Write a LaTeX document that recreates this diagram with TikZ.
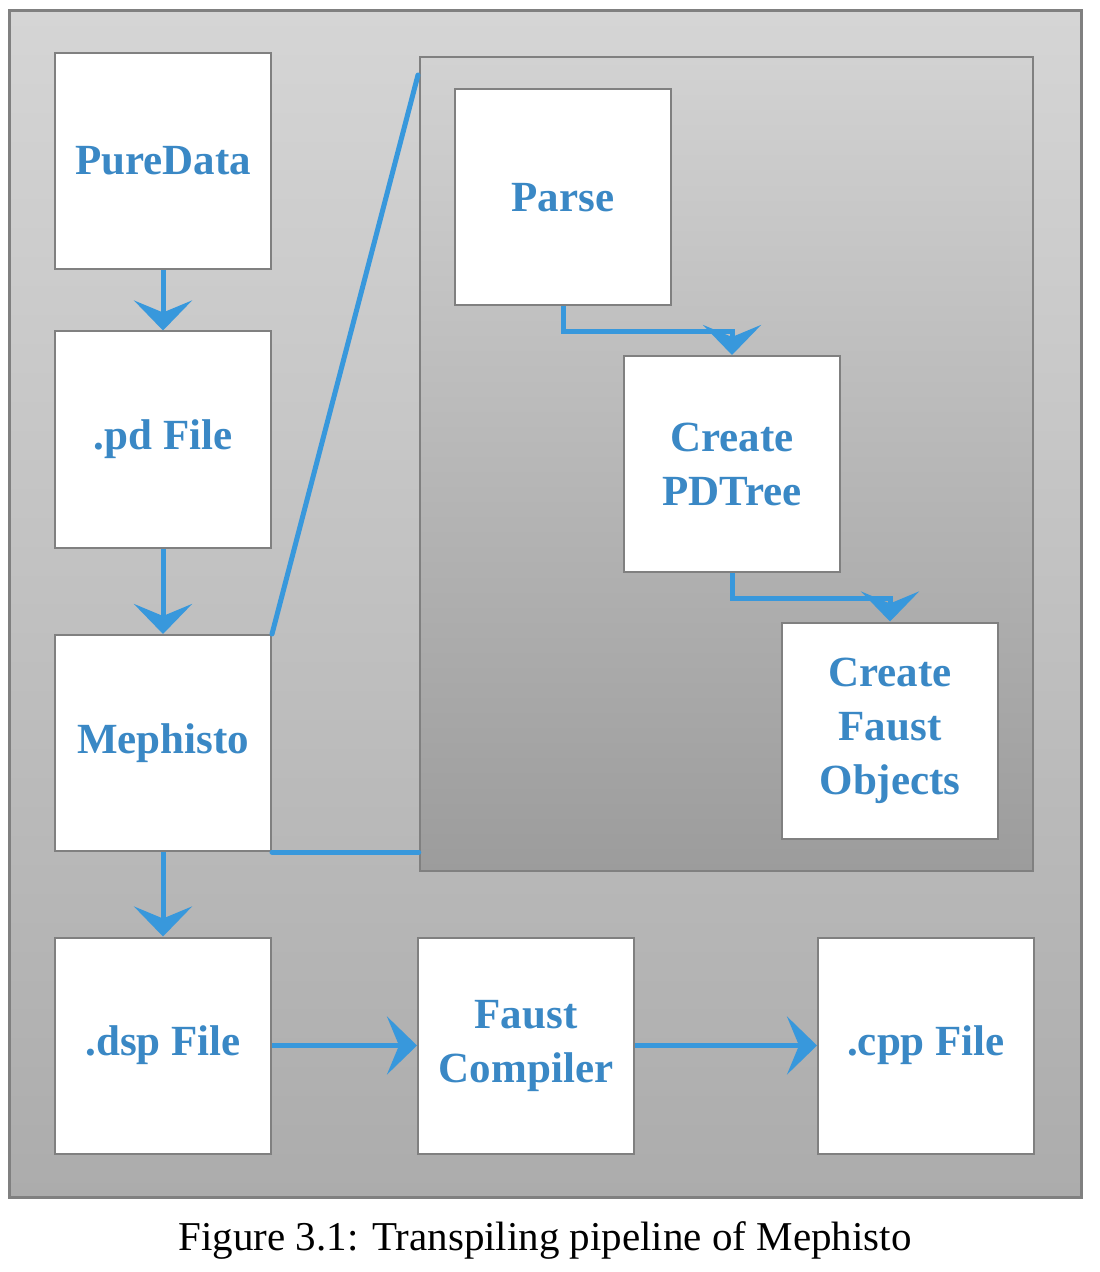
\documentclass[tikz,border=0pt]{standalone}
\usepackage{fontspec}
\setmainfont{Liberation Serif}
\usetikzlibrary{arrows.meta}
\definecolor{boxtext}{RGB}{58,136,197}
\definecolor{conncol}{RGB}{56,152,220}
\definecolor{edgecol}{RGB}{128,128,128}
\begin{document}
\begin{tikzpicture}[x=0.5pt,y=-0.5pt,
  stagebox/.style={draw=edgecol, line width=1pt, fill=white, minimum width=108pt, minimum height=108pt,
    inner sep=0pt, font=\fontsize{21.5}{27}\selectfont\bfseries, text=boxtext, align=center},
  flow/.style={draw=conncol, line width=2.5pt, -{Stealth[length=15pt,width=29pt,inset=6pt]}},
  zoomline/.style={draw=conncol, line width=2.5pt, line cap=round}]
\useasboundingbox (0,0) rectangle (1099,1272);
\fill[white] (0,0) rectangle (1099,1272);
% outer frame
\draw[draw=edgecol, line width=1.5pt, top color={rgb,255:red,213;green,213;blue,213}, bottom color={rgb,255:red,172;green,172;blue,172}] (9,11) rectangle (1081,1197);
% inner panel
\node[draw=edgecol, line width=1.2pt, top color={rgb,255:red,210;green,210;blue,210}, bottom color={rgb,255:red,156;green,156;blue,156},
  minimum width=306.5pt, minimum height=407pt, inner sep=0pt] (panel) at (726.5,464) {};
% boxes
\node[stagebox] (pure) at (163,161) {PureData};
\node[stagebox] (pd) at (163,439.5) {.pd File};
\node[stagebox] (meph) at (163,743) {Mephisto};
\node[stagebox] (dsp) at (163,1045.5) {.dsp File};
\node[stagebox] (faust) at (526,1045.5) {Faust\\Compiler};
\node[stagebox] (cpp) at (926,1045.5) {.cpp File};
\node[stagebox] (parse) at (563,197.5) {Parse};
\node[stagebox] (tree) at (732,464) {Create\\PDTree};
\node[stagebox] (objs) at (890,730.5) {Create\\Faust\\Objects};
% connectors
\draw[flow] (pure.south) -- (pd.north);
\draw[flow] (pd.south) -- (meph.north);
\draw[flow] (meph.south) -- (dsp.north);
\draw[flow] (dsp.east) -- (faust.west);
\draw[flow] (faust.east) -- (cpp.west);
\draw[flow] (parse.south) -- ++(0,25) -| (tree.north);
\draw[flow] (tree.south) -- ++(0,25) -| (objs.north);
% zoom lines
\coordinate (ztop) at (418,75);
\draw[zoomline] (meph.north east) -- (ztop);
\draw[zoomline] (meph.south east) -- (meph.south east -| panel.west);
% caption
\node[font=\fontsize{20.5}{24}\selectfont] (caption) at (545,1240) {Figure 3.1: Transpiling pipeline of Mephisto};
\end{tikzpicture}
\end{document}
